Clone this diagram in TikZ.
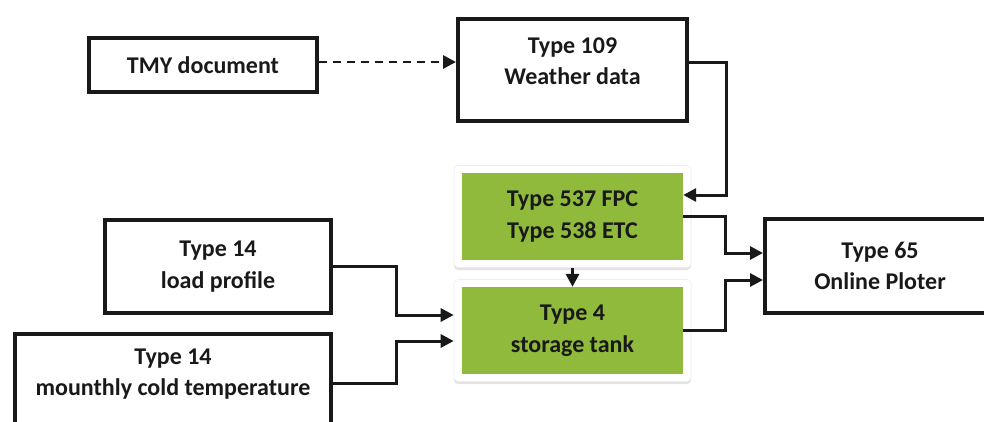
\documentclass[tikz,border=0pt]{standalone}
\usepackage{fontspec}
\setmainfont{Carlito}
\usetikzlibrary{arrows.meta,shadows,calc}
\definecolor{boxgreen}{RGB}{144,186,60}
\begin{document}
\begin{tikzpicture}[x=1pt,y=-1pt,
  lbl/.style={font=\bfseries\fontsize{24}{31.5}\selectfont, align=center, text=black!90},
  wbox/.style={lbl, draw=black!90, line width=4pt, rectangle, inner sep=0pt, fill=white},
  gbox/.style={lbl, fill=boxgreen, inner sep=0pt, minimum width=221pt, minimum height=87pt},
  gframe/.style={fill=white, rounded corners=4pt, draw=black!7, line width=0.6pt,
    drop shadow={opacity=0.22, shadow xshift=0pt, shadow yshift=-2.5pt},
    minimum width=237pt, minimum height=102pt, inner sep=0pt},
  conn/.style={draw=black!90, line width=3pt, -{Triangle[length=13pt,width=13pt]}},
  dconn/.style={conn, line width=2.8pt, dash pattern=on 8pt off 6pt}]
\useasboundingbox (0,0) rectangle (984,421);
\clip (0,0) rectangle (984,421);

% green boxes with white shadowed frames
\node[gframe] (g1f) at (572.5,216.5) {};
\node[gbox] (g1) at (572.5,216.5) {Type 537 FPC\\Type 538 ETC};
\node[gframe] (g2f) at (572.5,330.5) {};
\node[gbox] (g2) at (572.5,330.5) {Type 4\\storage tank};

% white boxes
\node[wbox, minimum width=228pt, minimum height=54pt] (tmy) at (203,65) {TMY document};
\node[wbox, minimum width=229pt, minimum height=102pt] (t109) at (572.5,70) {};
\node[lbl] (t109t) at (572.5,61) {Type 109\\Weather data};
\node[wbox, minimum width=230pt, minimum height=94pt] (t65) at (880,266) {Type 65\\Online Ploter};
\node[wbox, minimum width=226pt, minimum height=93pt] (load) at (218,266.5) {Type 14\\load profile};
\node[wbox, minimum width=316pt, minimum height=130pt, anchor=north] (mtbox) at (173,332) {};
\node[lbl] (mt) at (173,374) {Type 14\\mounthly cold temperature};

% connectors
\draw[dconn] ([yshift=3pt]tmy.east) -- ([yshift=3pt]tmy.east -| t109.west);
\draw[conn] ([yshift=3pt]t109.east |- tmy.east) -- ++(37,0) |- ([yshift=21.5pt]g1.east);
\draw[conn] (g1.east) -- ++(42,0) |- ([yshift=13pt]t65.west);
\draw[conn] (g2.east) -- ++(42,0) |- ([yshift=-14pt]t65.west);
\draw[conn] (g1f.south) -- (g2.north);
\draw[conn] (load.east) -- ++(63,0) |- ([yshift=15.5pt]g2f.west);
\draw[conn] ($(mtbox.east |- mt)+(0,9)$) -- ++(63,0) |- ([yshift=-10.5pt]g2f.west);
\end{tikzpicture}
\end{document}
